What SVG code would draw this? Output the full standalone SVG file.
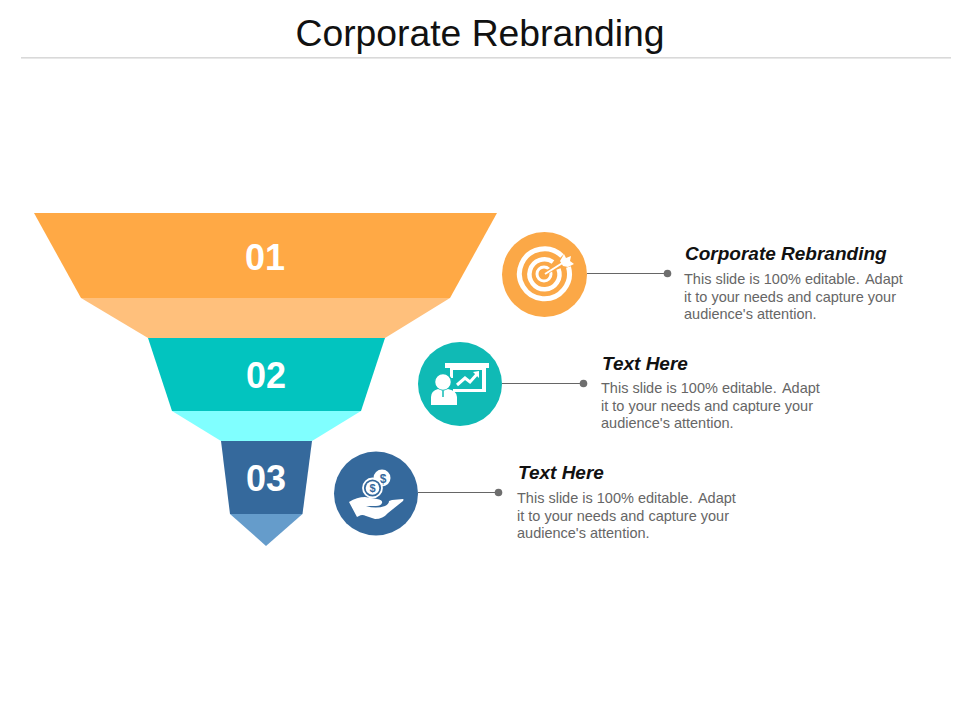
<svg xmlns="http://www.w3.org/2000/svg" width="960" height="720" viewBox="0 0 960 720">
<style>
text{font-family:"Liberation Sans",Arial,sans-serif}
.title{font-size:37.300px;fill:#111;text-anchor:middle}
.num{font-size:36px;font-weight:bold;fill:#fff;text-anchor:middle}
.head{font-size:19px;font-weight:bold;font-style:italic;fill:#111}
.body{font-size:14.500px;fill:#666}
.ln{stroke:#666;stroke-width:1;fill:none}
.dot{fill:#6e6e6e}
.w{fill:#fff}
</style>
<rect width="960" height="720" fill="#fff"/>
<text class="title" x="480" y="46">Corporate Rebranding</text>
<rect x="21" y="57" width="930" height="1.600" fill="#d9d9d9"/>

<g id="funnel-1">
<polygon points="81,298 450,298 385,338 148,338" fill="#ffc07c"/>
<polygon points="34,213 497,213 450,298 81,298" fill="#ffa945"/>
<text class="num" x="265" y="269.500">01</text>
</g>
<g id="funnel-2">
<polygon points="172,411 361,411 312,441 221,441" fill="#80ffff"/>
<polygon points="148,338 385,338 361,411 172,411" fill="#02c4bf"/>
<text class="num" x="266" y="388">02</text>
</g>
<g id="funnel-3">
<polygon points="230,514 302.500,514 266,546" fill="#659ccb"/>
<polygon points="221,441 312,441 302.500,514 230,514" fill="#35699c"/>
<text class="num" x="266" y="491">03</text>
</g>

<g id="connectors">
<line class="ln" x1="587" y1="273.500" x2="667" y2="273.500"/><circle class="dot" cx="667.500" cy="273.500" r="3.800"/>
<line class="ln" x1="502" y1="383.500" x2="583" y2="383.500"/><circle class="dot" cx="583.500" cy="383.500" r="3.800"/>
<line class="ln" x1="418" y1="492.500" x2="498" y2="492.500"/><circle class="dot" cx="498.500" cy="492.500" r="3.800"/>
</g>

<g id="icon-target">
<circle cx="544.500" cy="274.500" r="42.500" fill="#fba847"/>
<g fill="none" stroke="#fff">
<path d="M562 256A25 25 0 1 0 568.500 267" stroke-width="5"/>
<path d="M553 262A15 15 0 1 0 558.500 269" stroke-width="4.500"/>
<circle cx="544" cy="274" r="7" stroke-width="3"/>
<path d="M544 274L564 262" stroke="#fba847" stroke-width="4"/>
<path d="M545 274L564 262" stroke-width="2"/>
</g>
<polygon class="w" points="560,261 564,254 566,258 571,256 570,261 574,264 568,267 563,266"/>
</g>

<g id="icon-presentation">
<circle cx="460" cy="384" r="42" fill="#10bab5"/>
<rect class="w" x="445" y="363" width="44" height="5"/>
<path class="w" d="M450 368h36v24h-33v-3h29v-19h-29v8h-3z"/>
<path d="M457 385l8-7 5 4 8-9" fill="none" stroke="#fff" stroke-width="3"/>
<polygon class="w" points="473,372 479,371 479,378"/>
<circle cx="443" cy="382" r="8.500" fill="#fff" stroke="#10bab5" stroke-width="1.500"/>
<path class="w" d="M431 405v-8q0-6 7-8l5 2 5-2q9 2 9 8v8z"/>
<path d="M443 391v6" stroke="#10bab5" stroke-width="1.500"/>
</g>

<g id="icon-money">
<circle cx="376" cy="493.500" r="42" fill="#35699c"/>
<circle class="w" cx="382" cy="478" r="8.500"/>
<text x="383" y="482.500" font-size="12" font-weight="bold" fill="#35699c" text-anchor="middle">$</text>
<circle cx="372.500" cy="488" r="9.500" fill="#35699c" stroke="#fff" stroke-width="1.800"/>
<circle class="w" cx="372.500" cy="488" r="6.800"/>
<text x="372.500" y="492" font-size="11" font-weight="bold" fill="#35699c" text-anchor="middle">$</text>
<path class="w" d="M349 502q8-5 16-5l12 2q6 1 5 4-1 3-6 3h-10q10 3 19 0 4-2 4-5l3-1 11-1q1 0 0 2l-15 12q-5 6-13 6l-9-3q-4-2-7 0l-2 1z"/>
</g>

<g id="text-1">
<text class="head" x="685" y="260">Corporate Rebranding</text>
<text class="body" x="684" y="284">This slide is 100% editable. <tspan dx="2">Adapt</tspan></text>
<text class="body" x="684" y="302">it to your needs and capture your</text>
<text class="body" x="684" y="319">audience's attention.</text>
</g>
<g id="text-2">
<text class="head" x="602" y="370">Text Here</text>
<text class="body" x="601" y="393">This slide is 100% editable. <tspan dx="2">Adapt</tspan></text>
<text class="body" x="601" y="411">it to your needs and capture your</text>
<text class="body" x="601" y="428">audience's attention.</text>
</g>
<g id="text-3">
<text class="head" x="518" y="479">Text Here</text>
<text class="body" x="517" y="503">This slide is 100% editable. <tspan dx="2">Adapt</tspan></text>
<text class="body" x="517" y="521">it to your needs and capture your</text>
<text class="body" x="517" y="538">audience's attention.</text>
</g>
</svg>
